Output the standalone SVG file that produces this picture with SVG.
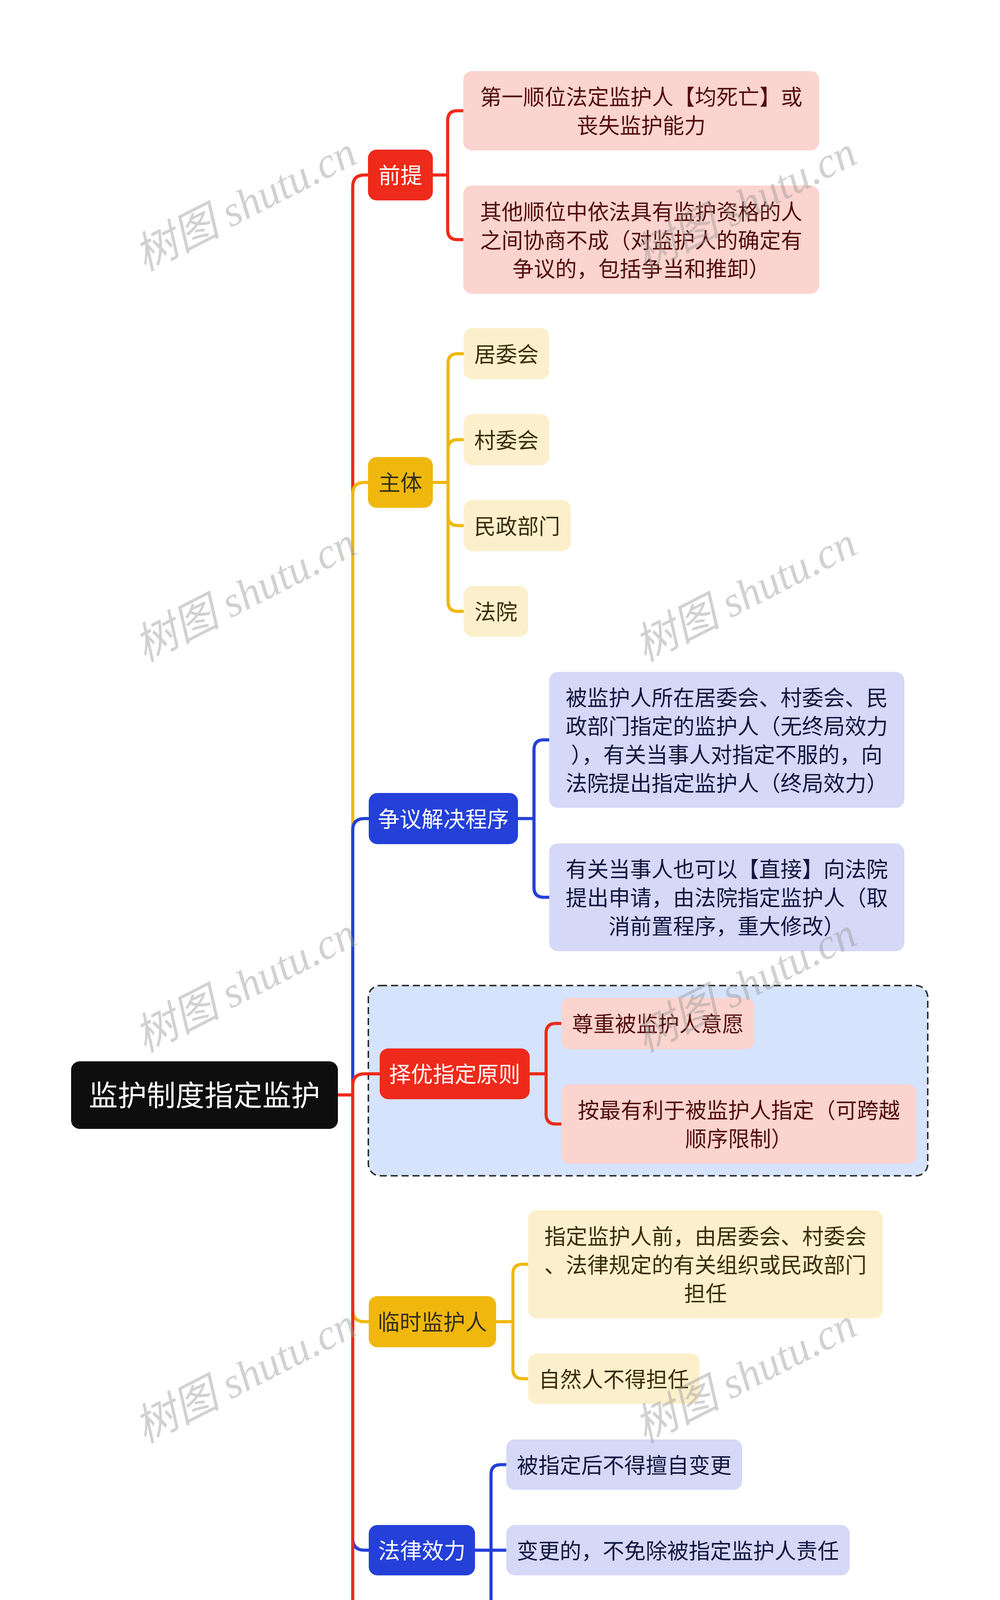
<svg xmlns="http://www.w3.org/2000/svg" width="2560" height="6120" viewBox="0 0 2560 6120">
<style>
text{font-family:"Noto Sans CJK SC","Noto Sans",sans-serif;text-anchor:middle}
.l1{font-size:56px}
.l2{font-size:55px}
.root{font-size:74px;fill:#ffffff}
.w{fill:#ffffff}
.dy{fill:#352f1c}
.tp{fill:#520c0c}
.ty{fill:#3a2c08}
.tb{fill:#10163f}
.cr{fill:none;stroke:#EE2A1A;stroke-width:8}
.cy{fill:none;stroke:#F0B80C;stroke-width:8}
.cb{fill:none;stroke:#2440D8;stroke-width:8}
.nr{fill:#EE2A1A}
.ny{fill:#F0B80C}
.nb{fill:#2440D8}
.pk{fill:#FBD4CF}
.ly{fill:#FCF0CC}
.lv{fill:#D5D8F6}
.wm{font-family:"Liberation Serif","Noto Sans CJK SC",serif;font-style:italic;font-size:110px;fill:#9a9a9a;opacity:0.45}
</style>
<rect width="2560" height="6120" fill="#ffffff"/>

<g id="group-zeyou-bg">
<rect x="943" y="2523" width="1432" height="487" rx="30" fill="#D5E3FC" stroke="#333333" stroke-width="4" stroke-dasharray="18 10"/>
</g>

<g id="connectors">
<path class="cr" d="M865,2803 H903 V478 Q903,448 933,448 H942"/>
<path class="cy" d="M865,2803 H903 V1265 Q903,1235 933,1235 H942"/>
<path class="cb" d="M865,2803 H903 V2125.5 Q903,2095.5 933,2095.5 H944"/>
<path class="cr" d="M865,2803 H903 V2779 Q903,2749 933,2749 H972"/>
<path class="cy" d="M865,2803 H903 V3353.5 Q903,3383.5 933,3383.5 H944"/>
<path class="cb" d="M865,2803 H903 V3938.5 Q903,3968.5 933,3968.5 H944"/>
<path class="cr" d="M865,2803 H903 V5129 Q903,5159 933,5159 H944"/>

<path class="cr" d="M1108,448 H1146 M1146,448 V308.5 Q1146,283.5 1171,283.5 H1186 M1146,448 V588.5 Q1146,613.5 1171,613.5 H1186"/>
<path class="cy" d="M1108,1235 H1147 M1147,1235 V930.5 Q1147,905.5 1172,905.5 H1187 M1147,1235 V1150.5 Q1147,1125.5 1172,1125.5 H1187 M1147,1235 V1320.5 Q1147,1345.5 1172,1345.5 H1187 M1147,1235 V1540 Q1147,1565 1172,1565 H1187"/>
<path class="cb" d="M1326,2095.5 H1367 M1367,2095.5 V1919 Q1367,1894 1392,1894 H1406 M1367,2095.5 V2272 Q1367,2297 1392,2297 H1406"/>
<path class="cr" d="M1356,2749 H1398 M1398,2749 V2645 Q1398,2620 1423,2620 H1437 M1398,2749 V2852.5 Q1398,2877.5 1423,2877.5 H1437"/>
<path class="cy" d="M1270,3383.5 H1313 M1313,3383.5 V3261.5 Q1313,3236.5 1338,3236.5 H1352 M1313,3383.5 V3504.5 Q1313,3529.5 1338,3529.5 H1352"/>
<path class="cb" d="M1216,3968.5 H1296 M1257,3968.5 V3774.5 Q1257,3749.5 1282,3749.5 H1296 M1257,3968.5 V4164 Q1257,4189 1282,4189 H1296"/>
<path class="cr" d="M1233,5159 H1273 M1273,5159 V4506.5 Q1273,4481.5 1298,4481.5 H1313 M1273,5159 V4872.5 Q1273,4847.5 1298,4847.5 H1313 M1273,5159 Q1273,5176.5 1290.5,5176.5 H1313 M1273,5159 V5482 Q1273,5507 1298,5507 H1313 M1273,5159 V5811.5 Q1273,5836.5 1298,5836.5 H1313"/>
</g>

<g id="root">
<rect x="182" y="2717" width="683" height="173" rx="22" fill="#0E0E0E"/>
<text class="root" x="523.5" y="2831">监护制度指定监护</text>
</g>

<g id="n-qianti">
<rect class="nr" x="942" y="383" width="166" height="130" rx="22"/>
<text class="l1 w" x="1025" y="469">前提</text>
</g>
<g id="n-qianti-1">
<rect class="pk" x="1186" y="182" width="911" height="203" rx="22"/>
<text class="l2 tp" x="1641.5" y="268">第一顺位法定监护人【均死亡】或</text>
<text class="l2 tp" x="1641.5" y="341">丧失监护能力</text>
</g>
<g id="n-qianti-2">
<rect class="pk" x="1186" y="475" width="911" height="277" rx="22"/>
<text class="l2 tp" x="1641.5" y="561.5">其他顺位中依法具有监护资格的人</text>
<text class="l2 tp" x="1641.5" y="634.5">之间协商不成（对监护人的确定有</text>
<text class="l2 tp" x="1641.5" y="707.5">争议的，包括争当和推卸）</text>
</g>

<g id="n-zhuti">
<rect class="ny" x="942" y="1170" width="166" height="130" rx="22"/>
<text class="l1 dy" x="1025" y="1256">主体</text>
</g>
<g id="n-zhuti-1">
<rect class="ly" x="1187" y="840" width="219" height="131" rx="22"/>
<text class="l2 ty" x="1296.5" y="926.5">居委会</text>
</g>
<g id="n-zhuti-2">
<rect class="ly" x="1187" y="1060" width="219" height="131" rx="22"/>
<text class="l2 ty" x="1296.5" y="1146.5">村委会</text>
</g>
<g id="n-zhuti-3">
<rect class="ly" x="1187" y="1280" width="274" height="131" rx="22"/>
<text class="l2 ty" x="1324" y="1366.5">民政部门</text>
</g>
<g id="n-zhuti-4">
<rect class="ly" x="1187" y="1500" width="165" height="130" rx="22"/>
<text class="l2 ty" x="1269.5" y="1586">法院</text>
</g>

<g id="n-zhengyi">
<rect class="nb" x="944" y="2030" width="382" height="131" rx="22"/>
<text class="l1 w" x="1135" y="2116.5">争议解决程序</text>
</g>
<g id="n-zhengyi-1">
<rect class="lv" x="1406" y="1720" width="909" height="348" rx="22"/>
<text class="l2 tb" x="1860.5" y="1805.5">被监护人所在居委会、村委会、民</text>
<text class="l2 tb" x="1860.5" y="1878.5">政部门指定的监护人（无终局效力</text>
<text class="l2 tb" x="1860.5" y="1951.5">），有关当事人对指定不服的，向</text>
<text class="l2 tb" x="1860.5" y="2024.5">法院提出指定监护人（终局效力）</text>
</g>
<g id="n-zhengyi-2">
<rect class="lv" x="1406" y="2159" width="909" height="276" rx="22"/>
<text class="l2 tb" x="1860.5" y="2245">有关当事人也可以【直接】向法院</text>
<text class="l2 tb" x="1860.5" y="2318">提出申请，由法院指定监护人（取</text>
<text class="l2 tb" x="1860.5" y="2391">消前置程序，重大修改）</text>
</g>

<g id="n-zeyou">
<rect class="nr" x="972" y="2684" width="384" height="130" rx="22"/>
<text class="l1 w" x="1164" y="2770">择优指定原则</text>
</g>
<g id="n-zeyou-1">
<rect class="pk" x="1437" y="2554" width="494" height="132" rx="22"/>
<text class="l2 tp" x="1684" y="2641">尊重被监护人意愿</text>
</g>
<g id="n-zeyou-2">
<rect class="pk" x="1437" y="2776" width="909" height="203" rx="22"/>
<text class="l2 tp" x="1891.5" y="2862">按最有利于被监护人指定（可跨越</text>
<text class="l2 tp" x="1891.5" y="2935">顺序限制）</text>
</g>

<g id="n-linshi">
<rect class="ny" x="944" y="3318" width="326" height="131" rx="22"/>
<text class="l1 dy" x="1107" y="3404.5">临时监护人</text>
</g>
<g id="n-linshi-1">
<rect class="ly" x="1352" y="3098" width="908" height="277" rx="22"/>
<text class="l2 ty" x="1806" y="3184.5">指定监护人前，由居委会、村委会</text>
<text class="l2 ty" x="1806" y="3257.5">、法律规定的有关组织或民政部门</text>
<text class="l2 ty" x="1806" y="3330.5">担任</text>
</g>
<g id="n-linshi-2">
<rect class="ly" x="1352" y="3465" width="439" height="129" rx="22"/>
<text class="l2 ty" x="1571.5" y="3550.5">自然人不得担任</text>
</g>

<g id="n-falv">
<rect class="nb" x="944" y="3904" width="272" height="129" rx="22"/>
<text class="l1 w" x="1080" y="3989.5">法律效力</text>
</g>
<g id="n-falv-1">
<rect class="lv" x="1296" y="3685" width="604" height="129" rx="22"/>
<text class="l2 tb" x="1598" y="3770.5">被指定后不得擅自变更</text>
</g>
<g id="n-falv-2">
<rect class="lv" x="1296" y="3904" width="879" height="129" rx="22"/>
<text class="l2 tb" x="1735.5" y="3989.5">变更的，不免除被指定监护人责任</text>
</g>
<g id="n-falv-3">
<rect class="lv" x="1296" y="4124" width="658" height="130" rx="22"/>
<text class="l2 tb" x="1625" y="4210">变更后的监护人承担责任</text>
</g>

<g id="n-zhiding">
<rect class="nr" x="944" y="5094" width="289" height="130" rx="22"/>
<text class="l1 w" x="1088.5" y="5180">指定监护</text>
</g>
<g id="n-zhiding-1">
<rect class="pk" x="1313" y="4343" width="911" height="277" rx="22"/>
<text class="l2 tp" x="1768.5" y="4429.5">第一层：指定监护的大前提是第一</text>
<text class="l2 tp" x="1768.5" y="4502.5">顺位的法定监护人均【死亡】或丧</text>
<text class="l2 tp" x="1768.5" y="4575.5">失监护能力；</text>
</g>
<g id="n-zhiding-2">
<rect class="pk" x="1313" y="4709" width="911" height="277" rx="22"/>
<text class="l2 tp" x="1768.5" y="4795.5">第二层：有关当事人可以【直接】</text>
<text class="l2 tp" x="1768.5" y="4868.5">向法院申请，由法院指定监护人（</text>
<text class="l2 tp" x="1768.5" y="4941.5">重大制度修改）；</text>
</g>
<g id="n-zhiding-3">
<rect class="pk" x="1313" y="5075" width="911" height="203" rx="22"/>
<text class="l2 tp" x="1768.5" y="5161">第三层：法院采“择优指定原则”</text>
<text class="l2 tp" x="1768.5" y="5234">，可以跨越顺位的限制；</text>
</g>
<g id="n-zhiding-4">
<rect class="pk" x="1313" y="5368" width="911" height="278" rx="22"/>
<text class="l2 tp" x="1768.5" y="5455">第四层：民政部门可以担任临时监</text>
<text class="l2 tp" x="1768.5" y="5528">护人（自然人不得担任临时监护人</text>
<text class="l2 tp" x="1768.5" y="5601">）；</text>
</g>
<g id="n-zhiding-5">
<rect class="pk" x="1313" y="5735" width="911" height="203" rx="22"/>
<text class="l2 tp" x="1768.5" y="5821">第五层：监护人被法院指定后，不</text>
<text class="l2 tp" x="1768.5" y="5894">得擅自变更，否则，不免则；</text>
</g>

<g id="watermarks">
<text class="wm" transform="translate(645,555) rotate(-27)">树图 shutu.cn</text>
<text class="wm" transform="translate(1925,555) rotate(-27)">树图 shutu.cn</text>
<text class="wm" transform="translate(645,1555) rotate(-27)">树图 shutu.cn</text>
<text class="wm" transform="translate(1925,1555) rotate(-27)">树图 shutu.cn</text>
<text class="wm" transform="translate(645,2555) rotate(-27)">树图 shutu.cn</text>
<text class="wm" transform="translate(1925,2555) rotate(-27)">树图 shutu.cn</text>
<text class="wm" transform="translate(645,3555) rotate(-27)">树图 shutu.cn</text>
<text class="wm" transform="translate(1925,3555) rotate(-27)">树图 shutu.cn</text>
<text class="wm" transform="translate(645,4555) rotate(-27)">树图 shutu.cn</text>
<text class="wm" transform="translate(1925,4555) rotate(-27)">树图 shutu.cn</text>
<text class="wm" transform="translate(645,5555) rotate(-27)">树图 shutu.cn</text>
<text class="wm" transform="translate(1925,5555) rotate(-27)">树图 shutu.cn</text>
</g>
</svg>
